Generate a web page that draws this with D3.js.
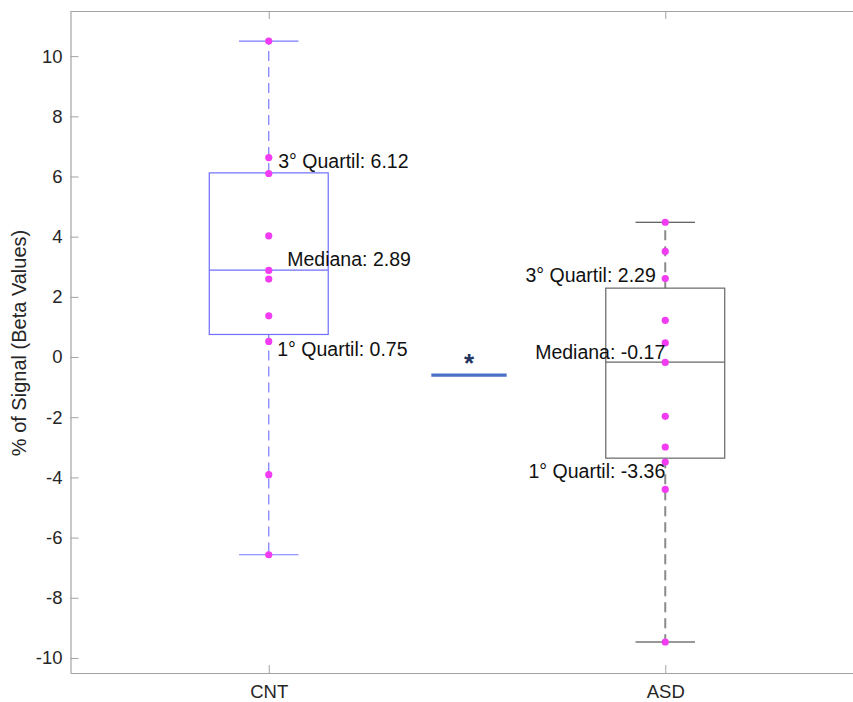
<!DOCTYPE html>
<html>
<head>
<meta charset="utf-8">
<script src="https://cdn.jsdelivr.net/npm/d3@7"></script>
<style>
  html, body { margin: 0; padding: 0; background: #fff; }
  svg { display: block; font-family: Helvetica, Arial, "Liberation Sans", sans-serif; }
</style>
</head>
<body>
<svg id="chart" width="853" height="702"></svg>
<script>
// Groups and per-subject beta values
const groups = ["CNT", "ASD"];
const cntValues = [10.50, 6.63, 6.10, 4.03, 2.88, 2.59, 1.37, 0.52, -3.91, -6.57];
const asdValues = [4.48, 3.51, 2.61, 1.22, 0.47, -0.18, -1.97, -2.99, -3.49, -4.40, -9.47];

// Box statistics per group
const q1 = [0.75, -3.36];
const medians = [2.89, -0.17];
const q3 = [6.12, 2.29];
const whiskerLow = [-6.57, -9.47];
const whiskerHigh = [10.50, 4.48];

// Y axis ticks
const yTicks = [-10, -8, -6, -4, -2, 0, 2, 4, 6, 8, 10];

// Significance bar between groups (group-index units and value)
const sigFrom = [1.41];
const sigTo = [1.60];
const sigLevel = [-0.6];
const sigText = ["*"];

const values = [cntValues, asdValues];

const svg = d3.select("#chart");
const plotLeft = 70.5, plotTop = 11, plotBottom = 673, plotRight = 863.5;

const x = d3.scaleLinear().domain([0.5, 2.5]).range([plotLeft, plotRight]);
const y = d3.scaleLinear().domain([-10.5, 11.5]).range([plotBottom, plotTop]);

const axisColor = "#a3a3a3";
const textColor = "#262626";
const boxColors = ["#6e6eff", "#666666"];
const whiskerColors = ["#7a7aff", "#8a8a8a"];
const capColors = ["#7a7aff", "#333333"];
const whiskerWidth = [1.2, 2];
const pointColor = "#f23cf2";
const boxHalf = 0.15, capHalf = 0.075;

// Plain hyphen for negative numbers
const hyphen = s => String(s).replace("\u2212", "-");

// Frame lines: top edge, left and bottom axes
svg.append("line").attr("x1", plotLeft).attr("x2", plotRight).attr("y1", plotTop + 0.5).attr("y2", plotTop + 0.5)
  .attr("stroke", axisColor).attr("stroke-width", 1.2);

const yAxis = d3.axisLeft(y).tickValues(yTicks).tickSizeInner(-8).tickSizeOuter(0).tickPadding(8)
  .tickFormat(d => hyphen(d3.format("d")(d)));
const gy = svg.append("g").attr("transform", `translate(${plotLeft},0)`).call(yAxis);
gy.select(".domain").attr("stroke", axisColor).attr("stroke-width", 1.2);
gy.selectAll(".tick line").attr("stroke", axisColor);
gy.selectAll(".tick text").attr("fill", textColor).attr("font-size", 18.5);

const xAxis = d3.axisBottom(x).tickValues([1, 2]).tickSizeInner(-8).tickSizeOuter(0).tickPadding(12)
  .tickFormat(d => groups[d - 1]);
const gx = svg.append("g").attr("transform", `translate(0,${plotBottom})`).call(xAxis);
gx.select(".domain").attr("stroke", axisColor).attr("stroke-width", 1.2);
gx.selectAll(".tick line").attr("stroke", axisColor);
gx.selectAll(".tick text").attr("fill", textColor).attr("font-size", 18.5);

// Inward ticks along the top edge
const xTop = d3.axisTop(x).tickValues([1, 2]).tickSizeInner(-8).tickSizeOuter(0).tickFormat("");
const gt = svg.append("g").attr("transform", `translate(0,${plotTop})`).call(xTop);
gt.select(".domain").remove();
gt.selectAll(".tick line").attr("stroke", axisColor);

// Y axis title
svg.append("text")
  .attr("transform", `translate(26,343) rotate(-90)`)
  .attr("text-anchor", "middle")
  .attr("font-size", 20)
  .attr("fill", textColor)
  .text("% of Signal (Beta Values)");

// Boxes, whiskers and caps
groups.forEach((g, i) => {
  const cx = x(i + 1);
  const c = svg.append("g");
  // whiskers
  c.append("line").attr("x1", cx).attr("x2", cx).attr("y1", y(q3[i])).attr("y2", y(whiskerHigh[i]))
    .attr("stroke", whiskerColors[i]).attr("stroke-width", whiskerWidth[i]).attr("stroke-dasharray", "10,6");
  c.append("line").attr("x1", cx).attr("x2", cx).attr("y1", y(q1[i])).attr("y2", y(whiskerLow[i]))
    .attr("stroke", whiskerColors[i]).attr("stroke-width", whiskerWidth[i]).attr("stroke-dasharray", "10,6");
  // caps
  [whiskerHigh[i], whiskerLow[i]].forEach(v => {
    c.append("line").attr("x1", x(i + 1 - capHalf)).attr("x2", x(i + 1 + capHalf))
      .attr("y1", y(v)).attr("y2", y(v)).attr("stroke", capColors[i]).attr("stroke-width", 1.2);
  });
  // box
  c.append("rect").attr("x", x(i + 1 - boxHalf)).attr("y", y(q3[i]))
    .attr("width", x(i + 1 + boxHalf) - x(i + 1 - boxHalf)).attr("height", y(q1[i]) - y(q3[i]))
    .attr("fill", "none").attr("stroke", boxColors[i]).attr("stroke-width", 1.2);
  // median
  c.append("line").attr("x1", x(i + 1 - boxHalf)).attr("x2", x(i + 1 + boxHalf))
    .attr("y1", y(medians[i])).attr("y2", y(medians[i]))
    .attr("stroke", boxColors[i]).attr("stroke-width", 1.2);
});

// Individual subject points
groups.forEach((g, i) => {
  svg.append("g").selectAll("circle").data(values[i]).join("circle")
    .attr("cx", x(i + 1)).attr("cy", d => y(d)).attr("r", 3.6)
    .attr("fill", pointColor);
});

// Quartile and median annotations
const fmt = v => hyphen(d3.format(".2f")(v));
const labels = [
  { g: 0, v: q3[0], text: `3° Quartil: ${fmt(q3[0])}`, dx: 9.5, dy: -5, anchor: "start" },
  { g: 0, v: medians[0], text: `Mediana: ${fmt(medians[0])}`, dx: 18.5, dy: -4.5, anchor: "start" },
  { g: 0, v: q1[0], text: `1° Quartil: ${fmt(q1[0])}`, dx: 8.5, dy: 21.5, anchor: "start" },
  { g: 1, v: q3[1], text: `3° Quartil: ${fmt(q3[1])}`, dx: -9.5, dy: -6, anchor: "end" },
  { g: 1, v: medians[1], text: `Mediana: ${fmt(medians[1])}`, dx: 0, dy: -3.5, anchor: "end" },
  { g: 1, v: q1[1], text: `1° Quartil: ${fmt(q1[1])}`, dx: 0, dy: 19.5, anchor: "end" }
];
svg.append("g").selectAll("text").data(labels).join("text")
  .attr("x", d => x(d.g + 1) + d.dx)
  .attr("y", d => y(d.v) + d.dy)
  .attr("text-anchor", d => d.anchor)
  .attr("font-size", 19.5)
  .attr("fill", "#111")
  .text(d => d.text);

// Significance bar and star
sigFrom.forEach((f, i) => {
  svg.append("line").attr("x1", x(f)).attr("x2", x(sigTo[i]))
    .attr("y1", y(sigLevel[i])).attr("y2", y(sigLevel[i]))
    .attr("stroke", "#4a72c8").attr("stroke-width", 3.2);
  svg.append("text").attr("x", x((f + sigTo[i]) / 2)).attr("y", y(sigLevel[i]) - 3)
    .attr("text-anchor", "middle").attr("font-size", 26).attr("font-weight", "bold")
    .attr("fill", "#23355f").text(sigText[i]);
});
</script>
</body>
</html>
